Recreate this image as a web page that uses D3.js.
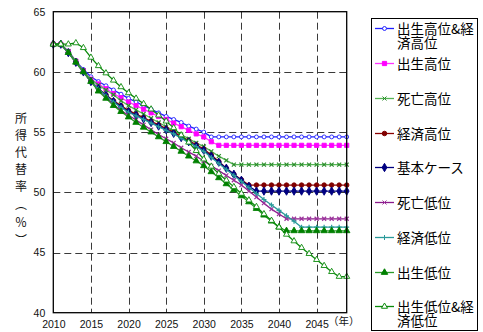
<!DOCTYPE html>
<html>
<head>
<meta charset="utf-8">
<script src="https://cdn.jsdelivr.net/npm/d3@7"></script>
<style>
  html, body { margin: 0; padding: 0; background: #fff; }
  svg { display: block; }
</style>
</head>
<body>
<svg id="chart" width="483" height="332"></svg>
<script>
// --- DATA ---
const years = d3.range(2010, 2050);
const xTicks = [2010, 2015, 2020, 2025, 2030, 2035, 2040, 2045];
const yTicks = [40, 45, 50, 55, 60, 65];
const seriesNames = ["出生高位&経済高位", "出生高位", "死亡高位", "経済高位", "基本ケース", "死亡低位", "経済低位", "出生低位", "出生低位&経済低位"];

const birthHighEconHigh = [62.3, 62.3, 61.7, 60.9, 60.2, 59.6, 59.2, 58.85, 58.5, 58.15, 57.8, 57.5, 57.2, 56.9, 56.6, 56.3, 56.05, 55.8, 55.5, 55.25, 55.0,
  54.6, 54.6, 54.6, 54.6, 54.6, 54.6, 54.6, 54.6, 54.6, 54.6, 54.6, 54.6, 54.6, 54.6, 54.6, 54.6, 54.6, 54.6, 54.6];
const birthHigh = [62.3, 62.3, 61.7, 60.9, 60.1, 59.4, 59.0, 58.6, 58.2, 57.85, 57.5, 57.2, 56.9, 56.6, 56.3, 56.05, 55.75, 55.45, 55.15, 54.85, 54.6,
  54.2, 53.9, 53.9, 53.9, 53.9, 53.9, 53.9, 53.9, 53.9, 53.9, 53.9, 53.9, 53.9, 53.9, 53.9, 53.9, 53.9, 53.9, 53.9];
const deathHigh = [62.3, 62.3, 61.7, 60.9, 60.1, 59.4, 58.9, 58.5, 58.1, 57.6, 57.2, 56.85, 56.5, 56.15, 55.8, 55.45, 55.1, 54.8, 54.45, 54.1, 53.8,
  53.4, 53.0, 52.65, 52.3, 52.3, 52.3, 52.3, 52.3, 52.3, 52.3, 52.3, 52.3, 52.3, 52.3, 52.3, 52.3, 52.3, 52.3, 52.3];
const econHigh = [62.3, 62.3, 61.6, 60.8, 60.0, 59.2, 58.6, 58.1, 57.6, 57.2, 56.8, 56.5, 56.2, 55.9, 55.6, 55.3, 55.0, 54.65, 54.3, 53.95, 53.6,
  53.1, 52.55, 52.0, 51.5, 51.05, 50.6, 50.6, 50.6, 50.6, 50.6, 50.6, 50.6, 50.6, 50.6, 50.6, 50.6, 50.6, 50.6, 50.6];
const baseCase = [62.3, 62.3, 61.6, 60.8, 60.0, 59.2, 58.6, 58.05, 57.55, 57.1, 56.7, 56.4, 56.1, 55.8, 55.5, 55.2, 54.9, 54.55, 54.2, 53.85, 53.5,
  53.0, 52.5, 52.0, 51.5, 51.0, 50.5, 50.1, 50.1, 50.1, 50.1, 50.1, 50.1, 50.1, 50.1, 50.1, 50.1, 50.1, 50.1, 50.1];
const deathLow = [62.3, 62.3, 61.6, 60.8, 60.0, 59.2, 58.5, 57.9, 57.3, 56.8, 56.4, 56.0, 55.6, 55.2, 54.8, 54.45, 54.1, 53.7, 53.35, 53.0, 52.6,
  52.2, 51.8, 51.4, 51.0, 50.6, 50.1, 49.6, 49.1, 48.6, 48.2, 47.8, 47.8, 47.8, 47.8, 47.8, 47.8, 47.8, 47.8, 47.8];
const econLow = [62.3, 62.3, 61.6, 60.8, 60.0, 59.2, 58.6, 58.0, 57.5, 57.05, 56.65, 56.35, 56.05, 55.75, 55.45, 55.15, 54.85, 54.5, 54.15, 53.8, 53.4,
  52.9, 52.4, 51.9, 51.4, 50.9, 50.4, 49.9, 49.4, 48.95, 48.5, 48.05, 47.6, 47.1, 47.1, 47.1, 47.1, 47.1, 47.1, 47.1];
const birthLow = [62.3, 62.3, 61.6, 60.8, 60.0, 59.2, 58.4, 57.8, 57.2, 56.7, 56.25, 55.8, 55.4, 55.0, 54.6, 54.2, 53.8, 53.4, 53.0, 52.6, 52.2,
  51.7, 51.2, 50.7, 50.2, 49.7, 49.2, 48.65, 48.1, 47.6, 47.1, 46.8, 46.8, 46.8, 46.8, 46.8, 46.8, 46.8, 46.8, 46.8];
const birthLowEconLow = [62.3, 62.3, 62.3, 62.4, 62.0, 61.2, 60.5, 59.9, 59.3, 58.75, 58.25, 57.8, 57.35, 56.9, 56.4, 55.9, 55.35, 54.75, 54.15, 53.45, 52.75,
  52.15, 51.55, 51.0, 50.45, 49.9, 49.35, 48.8, 48.2, 47.65, 47.1, 46.5, 45.95, 45.4, 44.9, 44.4, 43.9, 43.4, 43.0, 43.0];

const seriesValues = [birthHighEconHigh, birthHigh, deathHigh, econHigh, baseCase, deathLow, econLow, birthLow, birthLowEconLow];

// --- STYLES ---
const styles = [
  { line: "#1f1fff", marker: "circle", size: 12, fill: "#fff", stroke: "#1f1fff" },
  { line: "#ff33ff", marker: "square", size: 18, fill: "#ff00ff", stroke: "#ff00ff" },
  { line: "#55b455", marker: "x", size: 2, fill: "none", stroke: "#2a8c2a" },
  { line: "#8b0000", marker: "circle", size: 16, fill: "#800000", stroke: "#800000" },
  { line: "#000080", marker: "diamond", size: 20, fill: "#000080", stroke: "#000080" },
  { line: "#8b1a8b", marker: "x", size: 2, fill: "none", stroke: "#9b309b" },
  { line: "#2a9a9a", marker: "plus", size: 2.5, fill: "none", stroke: "#2a9a9a" },
  { line: "#2a9a2a", marker: "triangle", size: 18, fill: "#008000", stroke: "#008000" },
  { line: "#0a8a0a", marker: "triangle", size: 16, fill: "#fff", stroke: "#0a8a0a" }
];

const svg = d3.select("#chart");
const plot = { left: 53.3, right: 346.7, top: 11.7, bottom: 312.7 };

const x = d3.scaleLinear().domain([2010, 2049]).range([plot.left, plot.right]);
const y = d3.scaleLinear().domain([40, 65]).range([plot.bottom, plot.top]);

// --- GRID ---
const grid = svg.append("g").attr("stroke", "#3a3a3a").attr("stroke-width", 1).attr("stroke-dasharray", "7,4");
grid.selectAll(".vg").data(xTicks.filter(d => d > 2010))
  .join("line")
  .attr("x1", d => Math.round(x(d)) + 0.5).attr("x2", d => Math.round(x(d)) + 0.5)
  .attr("y1", plot.top).attr("y2", plot.bottom);
grid.selectAll(".hg").data(yTicks.filter(d => d > 40 && d < 65))
  .join("line")
  .attr("y1", d => Math.round(y(d)) + 0.5).attr("y2", d => Math.round(y(d)) + 0.5)
  .attr("x1", plot.left).attr("x2", plot.right);

// --- AXES ---
const xAxis = d3.axisBottom(x).tickValues(xTicks).tickFormat(d3.format("d")).tickSize(0).tickPadding(8);
const gx = svg.append("g").attr("transform", `translate(0,${plot.bottom})`).call(xAxis);
gx.select(".domain").remove();
gx.selectAll("text").attr("font-family", "Liberation Sans, Arial, sans-serif").attr("font-size", "10.5px").attr("fill", "#111");

const yAxis = d3.axisLeft(y).tickValues(yTicks).tickSize(0).tickPadding(8);
const gy = svg.append("g").attr("transform", `translate(${plot.left},0)`).call(yAxis);
gy.select(".domain").remove();
gy.selectAll("text").attr("font-family", "Liberation Sans, Arial, sans-serif").attr("font-size", "10.5px").attr("fill", "#111");

svg.append("text")
  .attr("x", 328).attr("y", 325)
  .attr("font-family", "Noto Sans CJK JP, sans-serif").attr("font-size", "10.5px").attr("fill", "#111")
  .text("（年）");

// vertical y title
const titleChars = ["所", "得", "代", "替", "率", "︵", "％", "︶"];
const titleY = [117, 134, 151, 168, 185, 203, 221, 239];
svg.append("g").selectAll("text").data(titleChars)
  .join("text")
  .attr("x", 21).attr("y", (d, i) => titleY[i])
  .attr("text-anchor", "middle").attr("dominant-baseline", "central")
  .attr("font-family", "Noto Sans CJK JP, sans-serif").attr("font-size", "12px").attr("fill", "#111")
  .text(d => d);

// --- MARKERS ---
function markerPath(st) {
  const s = st.size;
  if (st.marker === "circle") return d3.symbol(d3.symbolCircle, s)();
  if (st.marker === "square") return d3.symbol(d3.symbolSquare, s)();
  if (st.marker === "diamond") return d3.symbol(d3.symbolDiamond, s)();
  if (st.marker === "triangle") return d3.symbol(d3.symbolTriangle, s)();
  if (st.marker === "x") return `M${-s},${-s}L${s},${s}M${-s},${s}L${s},${-s}`;
  return `M${-s},0L${s},0M0,${-s}L0,${s}`;
}

// --- LINES ---
const line = d3.line().x((d, i) => x(years[i])).y(d => y(d));
const seriesG = svg.append("g");
seriesValues.forEach((vals, si) => {
  const st = styles[si];
  const g = seriesG.append("g");
  g.append("path").datum(vals)
    .attr("d", line).attr("fill", "none")
    .attr("stroke", st.line).attr("stroke-width", 1.3).attr("stroke-linejoin", "round");
  g.selectAll("path.m").data(vals).join("path")
    .attr("class", "m")
    .attr("transform", (d, i) => `translate(${x(years[i])},${y(d)})`)
    .attr("d", markerPath(st))
    .attr("fill", st.fill).attr("stroke", st.stroke)
    .attr("stroke-width", st.marker === "x" || st.marker === "plus" ? 1.2 : 0.9);
});

// --- FRAME ---
svg.append("rect")
  .attr("x", plot.left).attr("y", plot.top)
  .attr("width", plot.right - plot.left).attr("height", plot.bottom - plot.top)
  .attr("fill", "none").attr("stroke", "#000").attr("stroke-width", 1.3);

// --- LEGEND ---
const legend = svg.append("g");
legend.append("rect").attr("x", 371.5).attr("y", 18.5).attr("width", 106).attr("height", 312)
  .attr("fill", "#fff").attr("stroke", "#000").attr("stroke-width", 1);
const legendRows = [
  ["出生高位&経", "済高位"], ["出生高位"], ["死亡高位"], ["経済高位"], ["基本ケース"],
  ["死亡低位"], ["経済低位"], ["出生低位"], ["出生低位&経", "済低位"]
];
const legendY = [28.5, 63.5, 98.5, 133.5, 167.5, 202.5, 237.5, 272.5, 306.5];
legendRows.forEach((rows, i) => {
  const st = styles[i];
  const ly = legendY[i];
  legend.append("line").attr("x1", 375).attr("x2", 394).attr("y1", ly).attr("y2", ly)
    .attr("stroke", st.line).attr("stroke-width", 1.3);
  legend.append("path").attr("transform", `translate(384.5,${ly})`)
    .attr("d", markerPath(st))
    .attr("fill", st.fill).attr("stroke", st.stroke).attr("stroke-width", 1);
  const t = legend.append("text")
    .attr("x", 397).attr("y", ly + 5)
    .attr("font-family", "Noto Sans CJK JP, sans-serif").attr("font-size", "13.5px").attr("fill", "#000");
  rows.forEach((r, j) => {
    t.append("tspan").attr("x", 397).attr("dy", j === 0 ? 0 : 14.5).text(r);
  });
});
</script>
</body>
</html>
